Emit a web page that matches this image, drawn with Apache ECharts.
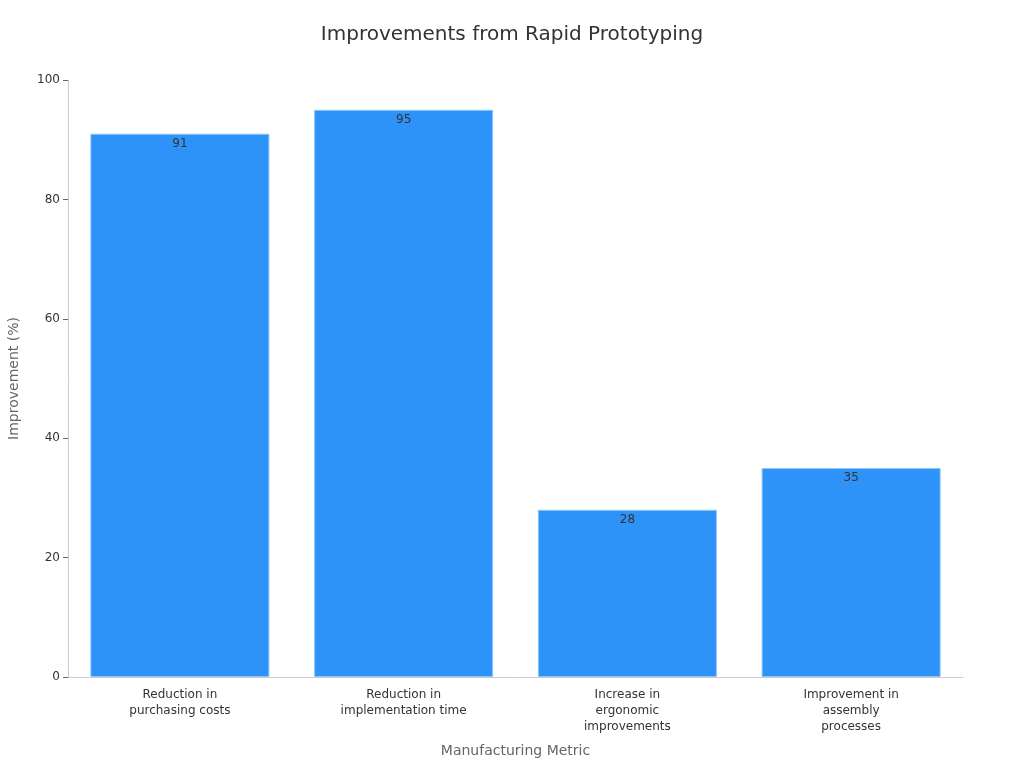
<!DOCTYPE html>
<html>
<head>
<meta charset="utf-8">
<script src="https://cdn.jsdelivr.net/npm/echarts@6/dist/echarts.min.js"></script>
<style>
    html, body { margin: 0; padding: 0; background: #fff; }
    #main { width: 1024px; height: 768px; }
</style>
</head>
<body>
<div id="main"></div>
<script>
var categories = [
    'Reduction in\npurchasing costs',
    'Reduction in\nimplementation time',
    'Increase in\nergonomic\nimprovements',
    'Improvement in\nassembly\nprocesses'
];
var improvements = [91, 95, 28, 35];
var yTicks = { min: 0, max: 100, interval: 20 };

var myChart = echarts.init(document.getElementById('main'));

var option = {
    backgroundColor: '#ffffff',
    textStyle: { fontFamily: 'DejaVu Sans' },
    title: {
        text: 'Improvements from Rapid Prototyping',
        left: 'center',
        top: 20,
        textStyle: { fontSize: 20, fontWeight: 'normal', color: '#333' }
    },
    grid: { left: 68, right: 61, top: 80, bottom: 91, containLabel: false, outerBoundsMode: 'none' },
    xAxis: {
        type: 'category',
        data: categories,
        name: 'Manufacturing Metric',
        nameLocation: 'middle',
        nameGap: 67,
        nameTextStyle: { fontSize: 14, color: '#666' },
        axisLine: { lineStyle: { color: '#ccc' } },
        axisTick: { alignWithLabel: true, length: 5, lineStyle: { color: '#999' } },
        axisLabel: { fontSize: 12, color: '#333', margin: 10, lineHeight: 16, interval: 0 }
    },
    yAxis: {
        type: 'value',
        min: yTicks.min,
        max: yTicks.max,
        interval: yTicks.interval,
        name: 'Improvement (%)',
        nameLocation: 'middle',
        nameGap: 47,
        nameTextStyle: { fontSize: 14, color: '#666' },
        axisLine: { show: true, lineStyle: { color: '#ccc' } },
        axisTick: { show: true, length: 5, lineStyle: { color: '#666' } },
        axisLabel: { fontSize: 12, color: '#333', margin: 8 },
        splitLine: { show: false }
    },
    series: [{
        type: 'bar',
        data: improvements,
        barWidth: '80%',
        itemStyle: { color: '#2E93F8', borderColor: '#8cc4f8', borderWidth: 1 },
        label: {
            show: true,
            position: 'insideTop',
            distance: 4,
            fontSize: 12,
            color: '#333'
        }
    }]
};

myChart.setOption(option);
</script>
</body>
</html>
